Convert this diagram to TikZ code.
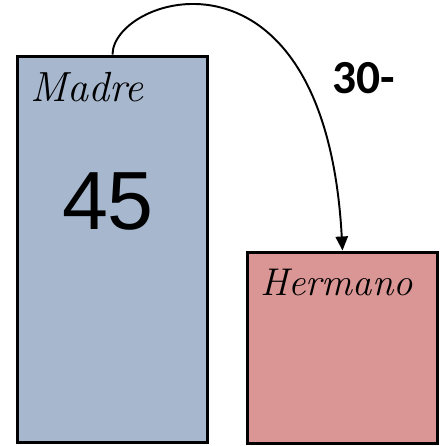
\documentclass[tikz,border=0pt]{standalone}
\usepackage{fontspec}
\newfontfamily\numfont{Liberation Sans}
\newfontfamily\opfont{Carlito}
\usetikzlibrary{arrows.meta}
\definecolor{madreblue}{HTML}{A7B7CD}
\definecolor{hermanored}{HTML}{D99694}

\tikzset{
    caja/.style={draw=black,line width=1.7pt,inner sep=0pt},
    nombre/.style={anchor=base west,inner sep=0pt,font=\fontsize{24}{28}\selectfont\itshape}
}

\begin{document}
\begin{tikzpicture}[x=0.02cm,y=-0.02cm]
        \useasboundingbox (0,0) rectangle (444,446);
        \node[caja,fill=madreblue,minimum width=3.82cm,minimum height=7.74cm] (madre) at (112.5,249.5) {};
        \node[caja,fill=hermanored,minimum width=3.82cm,minimum height=3.84cm] (hermano) at (342.5,348) {};
        \node[nombre] (tmadre) at (30,102) {Madre};
        \node[nombre,font=\fontsize{22}{26}\selectfont\itshape] (thermano) at (260,295) {Hermano};
        \node[anchor=base,inner sep=0pt,font=\fontsize{47}{52}\selectfont\numfont] (edad) at (108,229) {45};
        \node[anchor=base west,inner sep=0pt,font=\fontsize{27}{32}\selectfont\opfont\bfseries] (resta) at (332,93) {30-};
        \draw[line width=1.1pt,-{Triangle[width=7pt,length=8pt]}] (madre.north) .. controls (113,-5) and (325,-72) .. (hermano.north);
    \end{tikzpicture}
\end{document}
